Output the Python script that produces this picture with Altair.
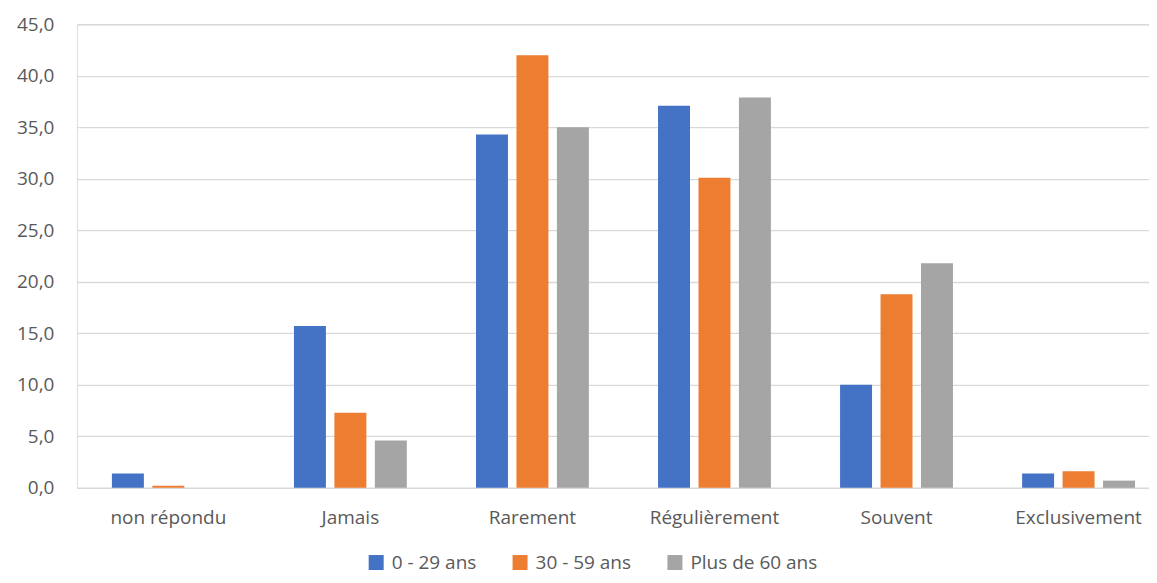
import altair as alt
import pandas as pd

categories = ["non répondu", "Jamais", "Rarement", "Régulièrement", "Souvent", "Exclusivement"]
series = ["0 - 29 ans", "30 - 59 ans", "Plus de 60 ans"]
v_0_29 = [1.4, 15.7, 34.3, 37.1, 10.0, 1.4]
v_30_59 = [0.2, 7.3, 42.0, 30.1, 18.8, 1.6]
v_60 = [0.0, 4.6, 35.0, 37.9, 21.8, 0.7]
y_ticks = [0, 5, 10, 15, 20, 25, 30, 35, 40, 45]
colors = ["#4472C4", "#ED7D31", "#A5A5A5"]

rows = []
for s, vals in zip(series, [v_0_29, v_30_59, v_60]):
    for c, v in zip(categories, vals):
        rows.append({"cat": c, "serie": s, "val": v})
df = pd.DataFrame(rows)

FONT = "Open Sans"
GREY = "#595959"
FS = 19

chart = alt.Chart(df).mark_bar().encode(
    x=alt.X("cat:N", sort=categories, title=None,
            scale=alt.Scale(paddingInner=0.38, paddingOuter=0.1345, align=0.714),
            axis=alt.Axis(labelAngle=0, labelFontSize=FS, labelColor=GREY, labelFont=FONT,
                          labelPadding=21, ticks=False, domain=True, domainColor="#D9D9D9",
                          domainWidth=1.3, grid=False)),
    xOffset=alt.XOffset("serie:N", sort=series,
                        scale=alt.Scale(paddingInner=0.21, paddingOuter=0)),
    y=alt.Y("val:Q", title=None,
            scale=alt.Scale(domain=[0, 45], nice=False),
            axis=alt.Axis(values=y_ticks, labelFontSize=FS, labelColor=GREY, labelFont=FONT,
                          labelPadding=23, ticks=False, domain=False,
                          gridColor="#D9D9D9", gridWidth=1.3,
                          labelExpr="replace(format(datum.value, '.1f'), '.', ',')")),
    color=alt.Color("serie:N", sort=series, scale=alt.Scale(domain=series, range=colors),
                    legend=alt.Legend(orient="none", legendX=290, legendY=529,
                                      title=None, direction="horizontal",
                                      symbolType="square", symbolSize=225, symbolStrokeWidth=0,
                                      labelFontSize=FS, labelColor=GREY, labelFont=FONT,
                                      columnPadding=34, labelOffset=6)),
).properties(
    width=1073, height=464,
    padding={"left": 8, "top": 7, "right": 0, "bottom": 30},
).configure_view(stroke=None).configure(font=FONT, background="white")

chart.save("out.html", embed_options={"renderer": "svg", "actions": False})
